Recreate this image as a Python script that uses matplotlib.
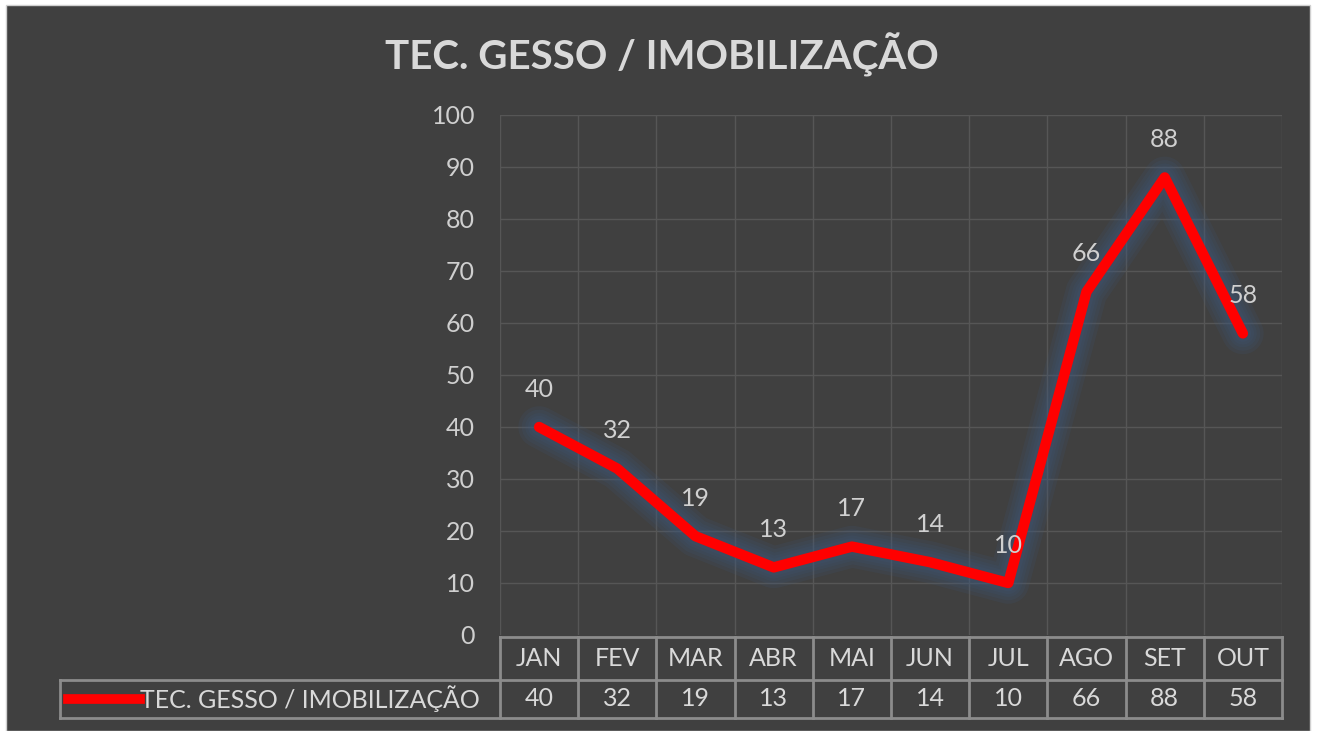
import numpy as np
import matplotlib
matplotlib.use('Agg')
import matplotlib.pyplot as plt
from matplotlib.patches import Rectangle
from matplotlib.lines import Line2D

plt.rcParams['font.family'] = ['Lato', 'DejaVu Sans']

# dados
meses = ['JAN', 'FEV', 'MAR', 'ABR', 'MAI', 'JUN', 'JUL', 'AGO', 'SET', 'OUT']
valores = [40, 32, 19, 13, 17, 14, 10, 66, 88, 58]
serie = 'TEC. GESSO / IMOBILIZAÇÃO'
titulo = 'TEC. GESSO / IMOBILIZAÇÃO'

W, H = 1319, 731
fundo = '#404040'
texto = '#d9d9d9'
grade = '#565656'
tabela = '#8c8c8c'
fs = 18

fig = plt.figure(figsize=(W / 100, H / 100), dpi=100, facecolor='white')
# fundo escuro do grafico
fig.patches.append(Rectangle((6 / W, 0), (1310 - 6) / W, (H - 5) / H,
                             transform=fig.transFigure, facecolor=fundo,
                             edgecolor='#d0d0d0', linewidth=1.0, zorder=-5))

x0, x1, y0, y1 = 500, 1282, 115, 635
ax = fig.add_axes([x0 / W, 1 - y1 / H, (x1 - x0) / W, (y1 - y0) / H])
ax.set_facecolor(fundo)
ax.patch.set_alpha(0)

x = np.arange(len(meses))
ax.set_xlim(-0.5, len(meses) - 0.5)
ax.set_ylim(0, 100)
ax.set_yticks(range(0, 101, 10))
ax.set_yticklabels([str(v) for v in range(0, 101, 10)], color='#cfcfcf', fontsize=fs)
ax.tick_params(axis='y', length=0, pad=18)
ax.set_xticks([])
for v in range(10, 101, 10):
    ax.axhline(v, color=grade, lw=1.0, zorder=1)
for b in np.arange(-0.5, len(meses), 1.0):
    ax.axvline(b, color=grade, lw=1.0, zorder=1)
for s in ax.spines.values():
    s.set_visible(False)

# brilho (varias camadas) + linha
for lw_g in [30, 25, 20, 16, 12]:
    ax.plot(x, valores, color='#3d5a80', lw=lw_g, alpha=0.14,
            solid_capstyle='round', solid_joinstyle='round', zorder=2)
ax.plot(x, valores, color='#ff0000', lw=7.5, solid_capstyle='round',
        solid_joinstyle='round', zorder=3)

for xi, v in zip(x, valores):
    ax.annotate(str(v), (xi, v), xytext=(0, 19), textcoords='offset points',
                ha='center', va='bottom', color='#d0d0d0', fontsize=fs, zorder=4)

fig.text((383 + 940) / 2 / W, 1 - 55 / H, titulo, ha='center', va='center',
         color=texto, fontsize=29, fontweight='bold')

# tabela de dados
ty0, ty1, ty2 = 637, 680, 718
legx = 60

def fx(p):
    return p / W

def fy(p):
    return 1 - p / H

cw = (x1 - x0) / len(meses)
kw = dict(transform=fig.transFigure, color=tabela, lw=2.0)
fig.lines.append(Line2D([fx(x0), fx(x1)], [fy(ty0), fy(ty0)], **kw))
fig.lines.append(Line2D([fx(legx), fx(x1)], [fy(ty1), fy(ty1)], **kw))
fig.lines.append(Line2D([fx(legx), fx(x1)], [fy(ty2), fy(ty2)], **kw))
fig.lines.append(Line2D([fx(legx), fx(legx)], [fy(ty1), fy(ty2)], **kw))
for i in range(len(meses) + 1):
    bx = x0 + i * cw
    fig.lines.append(Line2D([fx(bx), fx(bx)], [fy(ty0), fy(ty2)], **kw))

for i, (m, v) in enumerate(zip(meses, valores)):
    cx = x0 + (i + 0.5) * cw
    fig.text(fx(cx), fy((ty0 + ty1) / 2), m, ha='center', va='center',
             color=texto, fontsize=fs)
    fig.text(fx(cx), fy((ty1 + ty2) / 2), str(v), ha='center', va='center',
             color=texto, fontsize=fs)

fig.lines.append(Line2D([fx(68), fx(140)], [fy(699), fy(699)],
                        transform=fig.transFigure, color='#ff0000', lw=7))
fig.text(fx(140), fy(699), serie, ha='left', va='center', color=texto,
         fontsize=fs)

fig.savefig('out.png', dpi=100, facecolor=fig.get_facecolor())
